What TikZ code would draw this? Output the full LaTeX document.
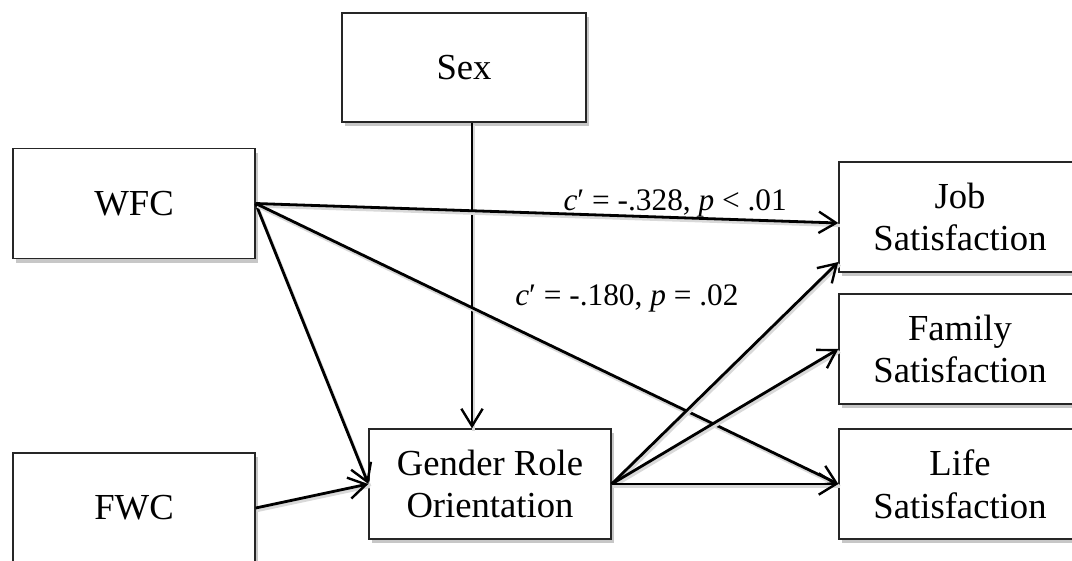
\documentclass[tikz,border=0pt]{standalone}
\usepackage{fontspec}
\setmainfont{Liberation Serif}
\usetikzlibrary{arrows.meta,shadows}

\begin{document}
\begin{tikzpicture}[x=0.75pt,y=-0.75pt,
  box/.style = {rectangle,draw=black!85,line width=1pt,fill=white,
    minimum width=181.5pt,minimum height=82.5pt,align=center,
    font=\fontsize{27.5}{32}\selectfont,
    drop shadow={shadow xshift=2.2pt,shadow yshift=-3pt,fill=black!22,opacity=1}},
  path/.style = {line width=2.1pt,-{Straight Barb[length=13pt,width=16pt,line width=1.8pt]},
    preaction={draw=black!15,line width=2.4pt,-,transform canvas={shift={(1.5,2.5)}}}},
  coef/.style = {font=\fontsize{23.5}{26}\selectfont,inner sep=0pt}]
\useasboundingbox (0,0) rectangle (1072,561);
% predictors
\node[box] (wfc) at (134,203.5) {WFC};
\node[box] (fwc) at (134,508) {FWC};
\node[box,minimum width=183pt,minimum height=81.75pt] (sex) at (464,67.5) {Sex};
% mediator
\node[box] (gro) at (490,484) {Gender Role\\Orientation};
% outcomes
\node[box] (job) at (960,217) {Job\\Satisfaction};
\node[box] (fam) at (960,349) {Family\\Satisfaction};
\node[box] (life) at (960,484) {Life\\Satisfaction};
% paths
\draw[path] (sex.south -| 472,0) -- (gro.north -| 472,0);
\draw[path] (wfc.east) -- (gro.west);
\draw[path] (fwc.east) -- (gro.west);
\draw[path] (wfc.east) -- ([yshift=-4.5pt]job.west)
  node[coef,pos=0.72,anchor=south,yshift=-1pt] (c1) {\textit{c}′ = -.328, \textit{p} < .01};
\draw[path] (wfc.east) -- (life.west);
\node[coef,anchor=base west] (c2) at (515,305) {\textit{c}′ = -.180, \textit{p} = .02};
\draw[path] (gro.east) -- ([yshift=-33.75pt]job.west);
\draw[path] (gro.east) -- (fam.west);
\draw[path] (gro.east) -- (life.west);
\end{tikzpicture}
\end{document}
